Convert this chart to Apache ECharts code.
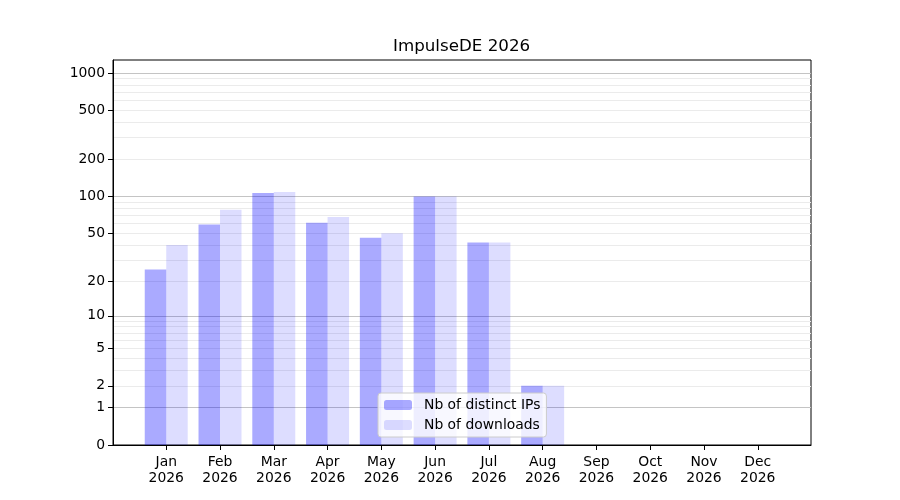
<!DOCTYPE html>
<html><head><meta charset="utf-8">
<script src="https://cdn.jsdelivr.net/npm/echarts@6/dist/echarts.min.js"></script>
<style>html,body{margin:0;padding:0;background:#fff}#c{width:900px;height:500px}</style>
</head><body><div id="c"></div>
<script>
// ---- data ----
const months = ['Jan','Feb','Mar','Apr','May','Jun','Jul','Aug','Sep','Oct','Nov','Dec'];
const year = '2026';
const chartTitle = 'ImpulseDE 2026';
const seriesNames = ['Nb of distinct IPs', 'Nb of downloads'];
const distinctIPs = [25, 59, 107, 61, 46, 100, 42, 2, 0, 0, 0, 0];
const downloads   = [40, 78, 109, 68, 50, 100, 42, 2, 0, 0, 0, 0];
const yTickLabels = [0, 1, 2, 5, 10, 20, 50, 100, 200, 500, 1000];
const majorGrid = [1, 10, 100, 1000];
const minorGrid = [2,3,4,5,6,7,8,9,20,30,40,50,60,70,80,90,200,300,400,500,600,700,800,900];
const yTopValue = 1273;

// y scale: log10(1 + v)
const tf = v => Math.log10(1 + v);
const inv = t => Math.round(Math.pow(10, t) - 1);
const FONT = 'DejaVu Sans';
const yMax = tf(yTopValue);
const xIdx = months.map((m, i) => i);

const hiddenY = (vals, color) => ({
  type: 'value', min: 0, max: yMax, position: 'left',
  axisLine: {show: false, onZero: false}, axisLabel: {show: false},
  axisTick: {show: false, customValues: vals.map(tf)},
  splitLine: {show: true, lineStyle: {color: color, width: 1}}
});

const chart = echarts.init(document.getElementById('c'), null, {renderer: 'canvas'});
chart.setOption({
  animation: false,
  backgroundColor: '#fff',
  title: {
    text: chartTitle, left: 393, top: 38, padding: 0,
    textStyle: {fontFamily: FONT, fontSize: 16.7, fontWeight: 'normal', color: '#000'}
  },
  grid: {left: 113, right: 89, top: 60, bottom: 55, show: true, borderColor: '#000', borderWidth: 1, backgroundColor: 'transparent'},
  legend: {
    orient: 'vertical', left: 378, top: 393,
    data: seriesNames,
    itemWidth: 28, itemHeight: 10, itemGap: 6,
    padding: [5, 6, 5, 6],
    backgroundColor: 'rgba(255,255,255,0.8)', borderColor: '#cccccc', borderWidth: 1, borderRadius: 3,
    textStyle: {fontFamily: FONT, fontSize: 13.9, color: '#000', padding: [0, 0, 0, 7]}
  },
  xAxis: {
    type: 'value', min: -0.99, max: 11.99, position: 'bottom',
    axisLine: {show: true, onZero: false, lineStyle: {color: '#000', width: 1}},
    axisTick: {show: true, length: 5, inside: false, customValues: xIdx, lineStyle: {color: '#000'}},
    axisLabel: {
      show: true, customValues: xIdx, margin: 9,
      fontFamily: FONT, fontSize: 13.9, color: '#000', lineHeight: 16,
      formatter: v => months[Math.round(v)] + '\n' + year
    },
    splitLine: {show: false}
  },
  yAxis: [
    {
      type: 'value', min: 0, max: yMax, position: 'left',
      axisLine: {show: true, onZero: false, lineStyle: {color: '#000', width: 1}},
      axisTick: {show: true, length: 5, inside: false, customValues: yTickLabels.map(tf), lineStyle: {color: '#000'}},
      axisLabel: {
        show: true, customValues: yTickLabels.map(tf), margin: 8, padding: [6, 0, 0, 0],
        fontFamily: FONT, fontSize: 13.9, color: '#000',
        formatter: v => String(inv(v))
      },
      splitLine: {show: false}
    },
    hiddenY(minorGrid, '#ebebeb'),
    hiddenY(majorGrid, '#c4c4c4')
  ],
  series: [
    {
      name: seriesNames[0], type: 'bar', xAxisIndex: 0, yAxisIndex: 0,
      barWidth: 21.5, barGap: '0%',
      itemStyle: {color: 'rgba(0,0,255,0.333)'},
      data: xIdx.map(i => [i, tf(distinctIPs[i])])
    },
    {
      name: seriesNames[1], type: 'bar', xAxisIndex: 0, yAxisIndex: 0,
      barWidth: 21.5, barGap: '0%',
      itemStyle: {color: 'rgba(0,0,255,0.133)'},
      data: xIdx.map(i => [i, tf(downloads[i])])
    }
  ]
});
</script>
</body></html>
